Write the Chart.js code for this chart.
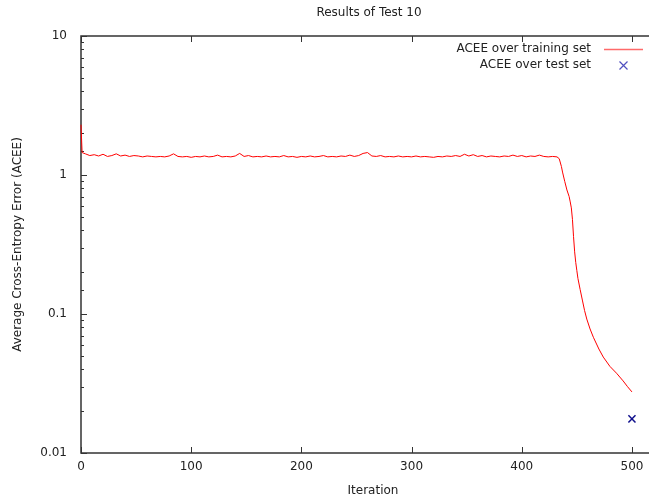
<!DOCTYPE html>
<html>
<head>
<meta charset="utf-8">
<script src="https://cdn.jsdelivr.net/npm/chart.js@4.4.1/dist/chart.umd.min.js"></script>
<style>
    html, body { margin: 0; padding: 0; background: #fff; }
    #wrap { width: 649px; height: 498px; overflow: hidden; }
</style>
</head>
<body>
<div id="wrap"><canvas id="acee" width="736" height="498"></canvas></div>
<script>
// == Data ==
const trainIterations = [
    0, 1, 4, 8, 12, 16, 20, 24, 28, 32, 36, 40, 44, 48, 52, 56, 60, 64, 68, 72, 76, 80,
    84, 88, 92, 96, 100, 104, 108, 112, 116, 120, 124, 128, 132, 136, 140, 144, 148, 152,
    156, 160, 164, 168, 172, 176, 180, 184, 188, 192, 196, 200, 204, 208, 212, 216, 220,
    224, 228, 232, 236, 240, 244, 248, 252, 256, 260, 264, 268, 272, 276, 280, 284, 288,
    292, 296, 300, 304, 308, 312, 316, 320, 324, 328, 332, 336, 340, 344, 348, 352, 356,
    360, 364, 368, 372, 376, 380, 384, 388, 392, 396, 400, 404, 408, 412, 416, 420, 424,
    428, 432, 434, 436, 437, 439, 441, 443, 444, 445, 446, 447, 448, 449, 450, 451, 453,
    455, 457, 459, 462, 465, 470, 474, 480, 486, 492, 496, 500
];
const trainAcee = [
    2.30, 1.45, 1.42, 1.38, 1.40, 1.37, 1.41, 1.36, 1.38, 1.42, 1.37, 1.39, 1.36, 1.38, 1.37, 1.35, 1.37, 1.36, 1.35, 1.36, 1.35, 1.37,
    1.42, 1.36, 1.35, 1.36, 1.34, 1.36, 1.35, 1.37, 1.35, 1.36, 1.39, 1.35, 1.36, 1.35, 1.37, 1.43, 1.36, 1.38,
    1.35, 1.36, 1.35, 1.37, 1.35, 1.36, 1.35, 1.38, 1.35, 1.36, 1.34, 1.36, 1.35, 1.37, 1.35, 1.36, 1.38,
    1.35, 1.36, 1.35, 1.37, 1.36, 1.39, 1.36, 1.38, 1.43, 1.45, 1.37, 1.36, 1.38, 1.35, 1.36, 1.35, 1.37,
    1.35, 1.36, 1.35, 1.37, 1.35, 1.36, 1.35, 1.34, 1.36, 1.35, 1.37, 1.36, 1.38, 1.36, 1.41, 1.37, 1.40,
    1.36, 1.38, 1.35, 1.37, 1.36, 1.35, 1.37, 1.36, 1.39, 1.36, 1.38, 1.35, 1.37, 1.36, 1.39, 1.36, 1.35,
    1.36, 1.35, 1.31, 1.15, 1.05, 0.90, 0.78, 0.70, 0.64, 0.58, 0.48, 0.36, 0.28, 0.235, 0.205, 0.18, 0.150,
    0.126, 0.106, 0.092, 0.078, 0.068, 0.056, 0.049, 0.042, 0.0375, 0.033, 0.030, 0.0275
];
const testIterations = [500];
const testAcee = [0.0176];

const xTickValues = [0, 100, 200, 300, 400, 500];
const yTickLabels = ["0.01", "0.1", "1", "10"];

const chartTitle = "Results of Test 10";
const legendLabels = ["ACEE over training set", "ACEE over test set"];

// == Utils ==
const FONT = "DejaVu Sans";
const TEXT = "#222";
const AXIS = "#333";

function toPoints(xs, ys) {
    return xs.map((x, i) => ({ x, y: ys[i] }));
}

function isDecade(v) {
    const l = Math.log10(v);
    return Math.abs(l - Math.round(l)) < 1e-9;
}

// frame and inward ticks (under the data), title + legend on top, gnuplot style
const gnuplotFrame = {
    id: 'gnuplotFrame',
    beforeDatasetsDraw(chart) {
        const { ctx, chartArea: a, scales: { x, y } } = chart;
        ctx.save();
        ctx.strokeStyle = AXIS;
        ctx.lineWidth = 1.5;
        ctx.strokeRect(a.left, a.top, a.right - a.left, a.bottom - a.top);

        ctx.lineWidth = 1;
        ctx.beginPath();
        x.ticks.forEach(t => {
            const px = Math.round(x.getPixelForValue(t.value)) + 0.5;
            ctx.moveTo(px, a.bottom); ctx.lineTo(px, a.bottom - 6);
            ctx.moveTo(px, a.top); ctx.lineTo(px, a.top + 6);
        });
        y.ticks.forEach(t => {
            const py = Math.round(y.getPixelForValue(t.value)) + 0.5;
            const len = isDecade(t.value) ? 6 : 3;
            ctx.moveTo(a.left, py); ctx.lineTo(a.left + len, py);
            ctx.moveTo(a.right, py); ctx.lineTo(a.right - len, py);
        });
        ctx.stroke();
        ctx.restore();
    },
    afterDraw(chart) {
        const { ctx } = chart;
        ctx.save();
        ctx.font = `12px "${FONT}"`;
        ctx.fillStyle = TEXT;
        ctx.textBaseline = 'middle';
        ctx.textAlign = 'center';
        ctx.fillText(chartTitle, 369, 13);

        ctx.textAlign = 'right';
        ctx.fillText(legendLabels[0], 591, 49);
        ctx.fillText(legendLabels[1], 591, 65);

        ctx.strokeStyle = '#ff6a6a';
        ctx.lineWidth = 1.5;
        ctx.beginPath();
        ctx.moveTo(604, 49.5); ctx.lineTo(643, 49.5);
        ctx.stroke();

        ctx.strokeStyle = '#5050c0';
        ctx.lineWidth = 1.2;
        ctx.beginPath();
        ctx.moveTo(619.5, 61.5); ctx.lineTo(627.5, 69.5);
        ctx.moveTo(627.5, 61.5); ctx.lineTo(619.5, 69.5);
        ctx.stroke();
        ctx.restore();
    }
};

Chart.defaults.font.family = FONT;
Chart.defaults.font.size = 12;
Chart.defaults.color = TEXT;

// == Chart ==
new Chart(document.getElementById('acee'), {
    type: 'scatter',
    plugins: [gnuplotFrame],
    data: {
        datasets: [{
            label: legendLabels[0],
            data: toPoints(trainIterations, trainAcee),
            showLine: true,
            borderColor: '#ff0000',
            borderWidth: 1,
            pointRadius: 0,
            tension: 0,
            clip: 3
        }, {
            label: legendLabels[1],
            data: toPoints(testIterations, testAcee),
            showLine: false,
            pointStyle: 'crossRot',
            pointRadius: 5,
            borderColor: '#10108c',
            borderWidth: 1.5
        }]
    },
    options: {
        responsive: false,
        animation: false,
        devicePixelRatio: 1,
        layout: { padding: { left: 0, right: 71, top: 36, bottom: 0 } },
        plugins: {
            legend: { display: false },
            tooltip: { enabled: false },
            title: { display: false }
        },
        scales: {
            x: {
                type: 'linear',
                min: 0,
                max: 530,
                grid: { display: false, drawTicks: false },
                border: { display: false },
                afterBuildTicks: scale => { scale.ticks = xTickValues.map(v => ({ value: v })); },
                afterFit: scale => { scale.height = 45; },
                ticks: { padding: 7, maxRotation: 0, color: TEXT },
                title: { display: true, text: 'Iteration', color: TEXT, padding: { top: 0, bottom: 0 } }
            },
            y: {
                type: 'logarithmic',
                min: 0.01,
                max: 10,
                grid: { display: false, drawTicks: false },
                border: { display: false },
                afterFit: scale => { scale.width = 81; },
                ticks: {
                    padding: 14,
                    color: TEXT,
                    autoSkip: false,
                    callback: value => isDecade(value) ? yTickLabels[Math.round(Math.log10(value)) + 2] : ''
                },
                title: { display: true, text: 'Average Cross-Entropy Error (ACEE)', color: TEXT, padding: { top: 11, bottom: 0 } }
            }
        }
    }
});
</script>
</body>
</html>
